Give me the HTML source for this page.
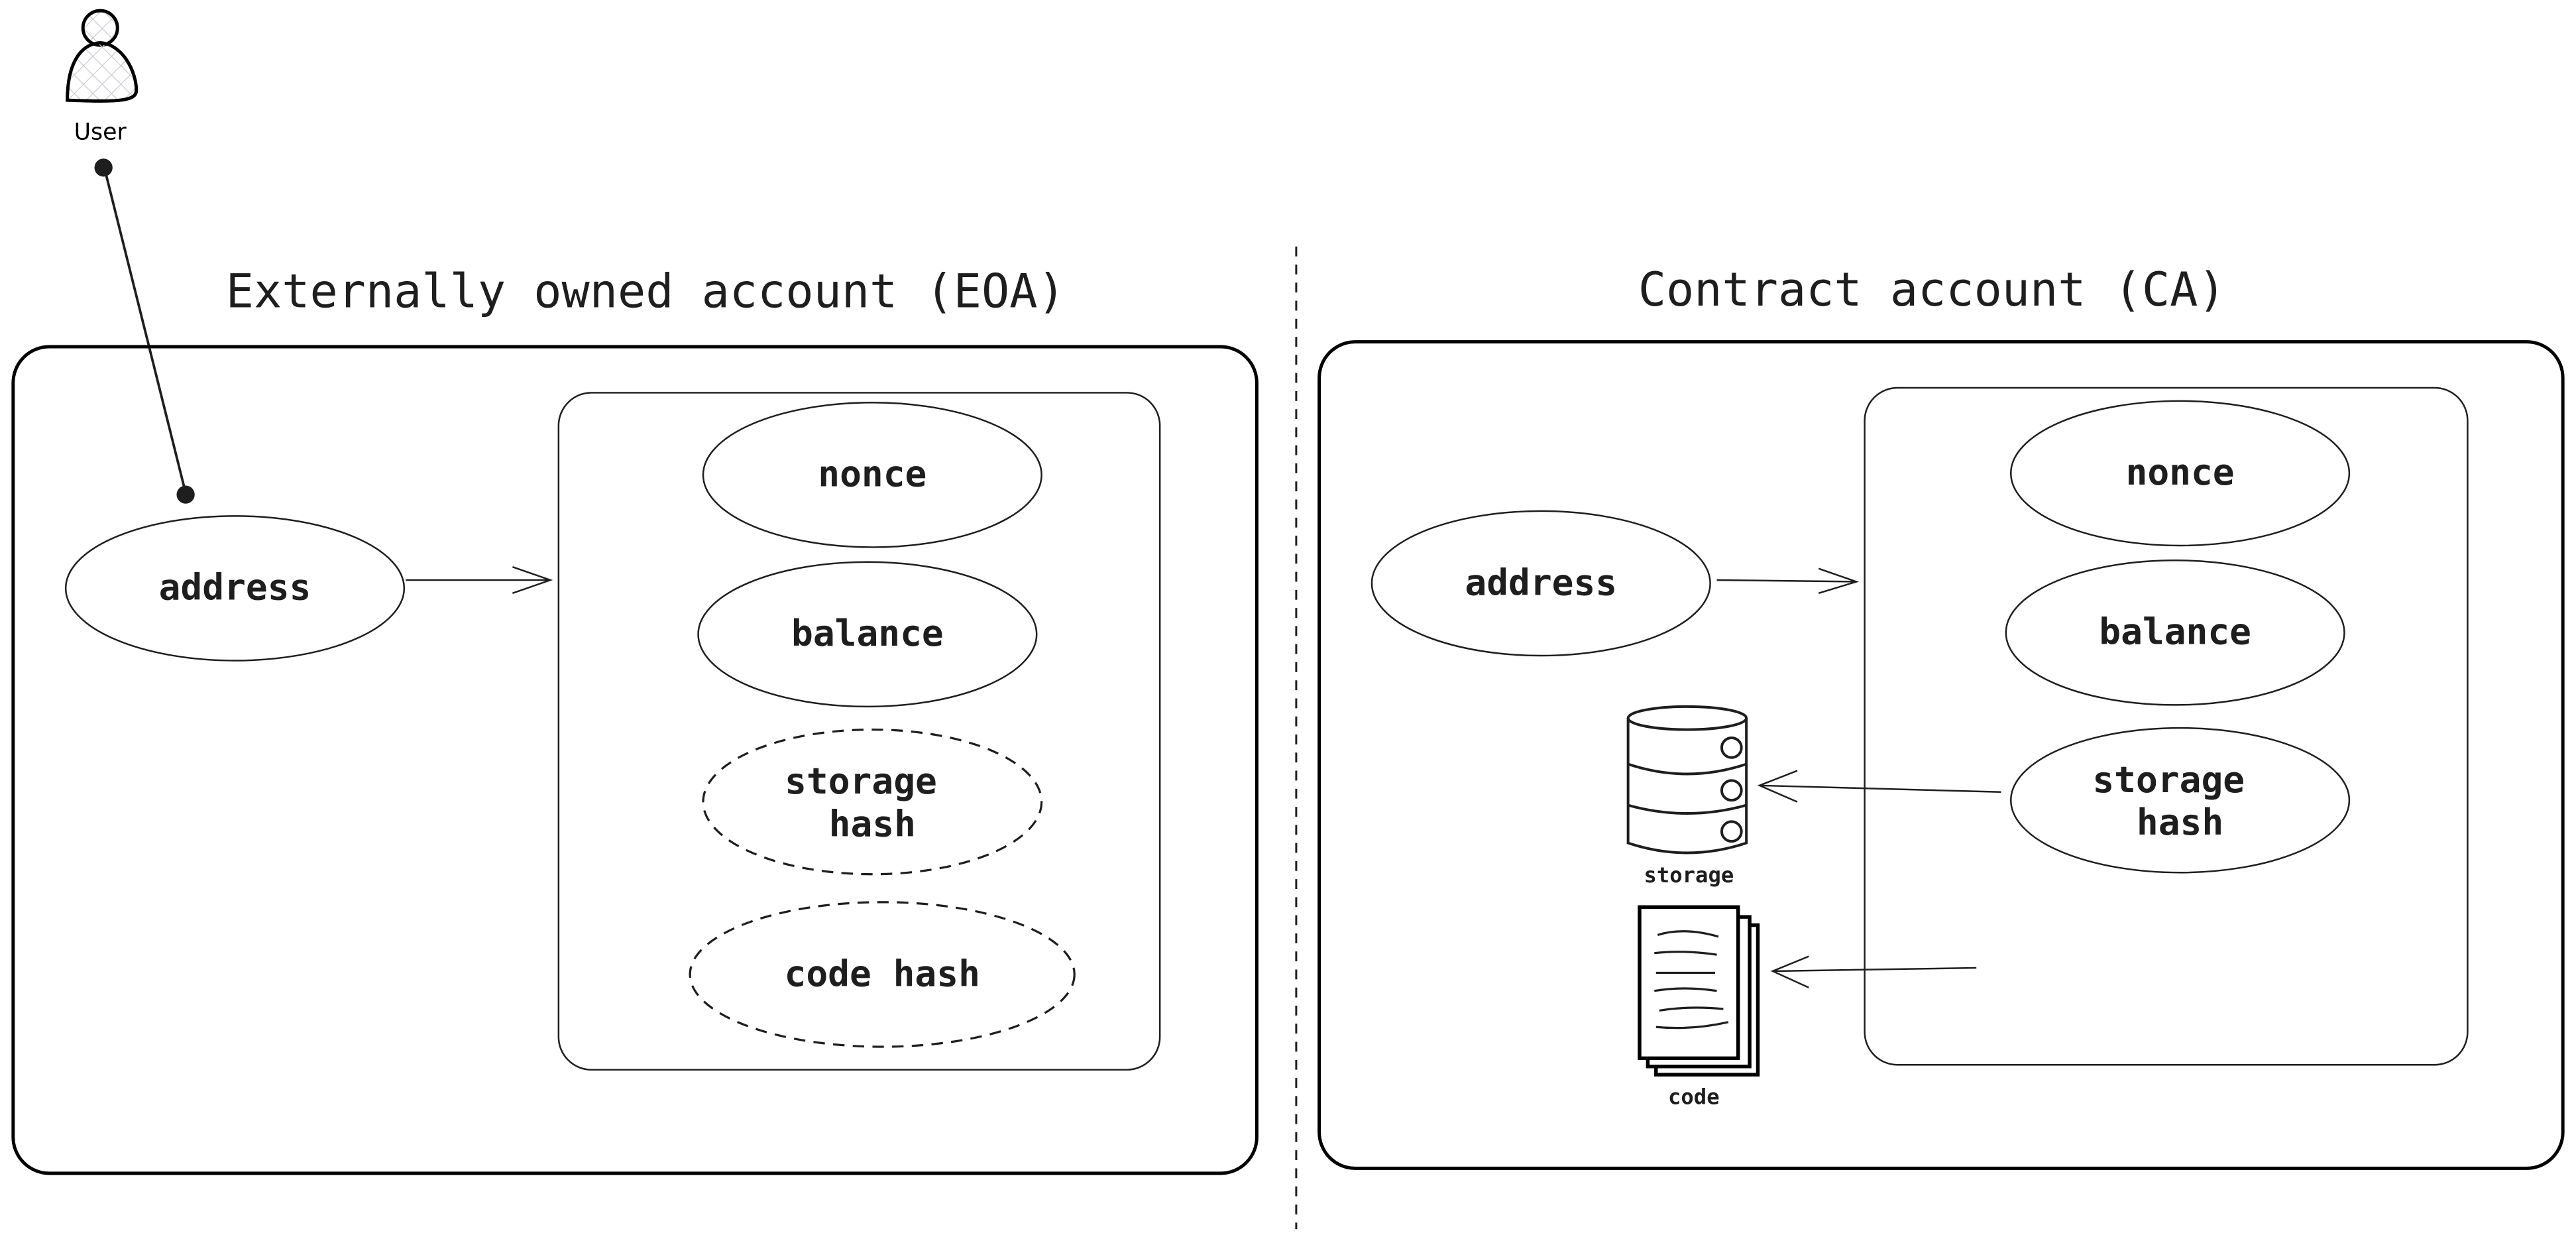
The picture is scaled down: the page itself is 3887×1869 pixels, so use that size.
<!DOCTYPE html>
<html><head><meta charset="utf-8"><style>
html,body{margin:0;padding:0;background:#fff;}
svg{display:block;}
.t{font-family:"DejaVu Sans Mono","Liberation Mono",monospace;fill:#1e1e1e;}
</style></head><body>
<svg width="3887" height="1869" viewBox="0 0 1568 754" preserveAspectRatio="none" xmlns="http://www.w3.org/2000/svg">
<defs>
<pattern id="hatch" width="8" height="8" patternUnits="userSpaceOnUse" patternTransform="rotate(45)">
<line x1="0" y1="0" x2="0" y2="8" stroke="#c8ccd2" stroke-width="1"/>
<line x1="0" y1="0" x2="8" y2="0" stroke="#c8ccd2" stroke-width="1"/>
</pattern>
</defs>
<rect width="1568" height="754" fill="#fff"/>
<circle cx="61" cy="17" r="10.5" fill="url(#hatch)" stroke="#000" stroke-width="2"/>
<path d="M41 61 C41 40 48 27 61 26 C75 27 83 44 83 55 C83 62 70 62 41 61 Z" fill="url(#hatch)" stroke="#000" stroke-width="2"/>
<text x="61" y="85" text-anchor="middle" font-family="'DejaVu Sans',sans-serif" font-size="14" fill="#000">User</text>
<circle cx="63" cy="102" r="5.5" fill="#1e1e1e"/>
<line x1="64" y1="104" x2="113" y2="300" stroke="#1e1e1e" stroke-width="1.5"/>
<circle cx="113" cy="301" r="5.5" fill="#1e1e1e"/>
<text class="t" x="393" y="187" text-anchor="middle" font-size="28.3">Externally owned account (EOA)</text>
<text class="t" x="1176" y="186" text-anchor="middle" font-size="28.3">Contract account (CA)</text>
<line x1="789" y1="150" x2="789" y2="748" stroke="#1e1e1e" stroke-width="1.2" stroke-dasharray="6 5"/>
<rect x="8" y="211" width="757" height="503" rx="22" fill="none" stroke="#000" stroke-width="2"/>
<rect x="340" y="239" width="366" height="412" rx="20" fill="none" stroke="#1e1e1e" stroke-width="1"/>
<g fill="none" stroke="#1e1e1e" stroke-width="1">
<ellipse cx="143" cy="358" rx="103" ry="44"/>
<ellipse cx="531" cy="289" rx="103" ry="44"/>
<ellipse cx="528" cy="386" rx="103" ry="44"/>
<ellipse cx="531" cy="488" rx="103" ry="44" stroke-dasharray="7 5" stroke-width="1.3"/>
<ellipse cx="537" cy="593" rx="117" ry="44" stroke-dasharray="7 5" stroke-width="1.3"/>
<path d="M247 353 L335 353 M312 345 L335 353 L312 361"/>
</g>
<g class="t" font-size="22" font-weight="bold" text-anchor="middle">
<text x="143" y="365">address</text>
<text x="531" y="296">nonce</text>
<text x="528" y="393">balance</text>
<text x="524" y="483">storage</text>
<text x="531" y="509">hash</text>
<text x="537" y="600">code hash</text>
</g>
<rect x="803" y="208" width="757" height="503" rx="22" fill="none" stroke="#000" stroke-width="2"/>
<rect x="1135" y="236" width="367" height="412" rx="20" fill="none" stroke="#1e1e1e" stroke-width="1"/>
<g fill="none" stroke="#1e1e1e" stroke-width="1">
<ellipse cx="938" cy="355" rx="103" ry="44"/>
<ellipse cx="1327" cy="288" rx="103" ry="44"/>
<ellipse cx="1324" cy="385" rx="103" ry="44"/>
<ellipse cx="1327" cy="487" rx="103" ry="44"/>
<path d="M1045 353 L1130 354 M1107 346 L1130 354 L1107 361"/>
<path d="M1218 482 L1071 478 M1094 469 L1071 478 L1094 488"/>
<path d="M1203 589 L1079 591 M1101 582 L1079 591 L1101 601"/>
</g>
<g class="t" font-size="22" font-weight="bold" text-anchor="middle">
<text x="938" y="362">address</text>
<text x="1327" y="295">nonce</text>
<text x="1324" y="392">balance</text>
<text x="1320" y="482">storage</text>
<text x="1327" y="508">hash</text>
</g>
<g fill="none" stroke="#1e1e1e" stroke-width="1.6">
<ellipse cx="1027" cy="437" rx="36" ry="7"/>
<path d="M991 437 L991 513 Q1027 525 1063 513 L1063 437"/>
<path d="M991 465 Q1027 477 1063 465"/>
<path d="M991 490 Q1027 500 1063 490"/>
<circle cx="1054" cy="455" r="6"/>
<circle cx="1054" cy="481" r="6"/>
<circle cx="1054" cy="506" r="6"/>
</g>
<text class="t" x="1028" y="537" text-anchor="middle" font-size="13" font-weight="bold">storage</text>
<g fill="#fff" stroke="#000" stroke-width="2.2">
<rect x="1008" y="563" width="62" height="91"/>
<rect x="1003" y="558" width="62" height="91"/>
<rect x="998" y="552" width="60" height="92"/>
</g>
<g fill="none" stroke="#1e1e1e" stroke-width="1.3">
<path d="M1009 569 Q1025 564 1046 570"/>
<path d="M1007 580 Q1025 578 1045 581"/>
<path d="M1008 592 L1044 592"/>
<path d="M1007 603 Q1025 600 1045 603"/>
<path d="M1010 615 Q1028 612 1049 614"/>
<path d="M1008 625 Q1030 627 1052 622"/>
</g>
<text class="t" x="1031" y="672" text-anchor="middle" font-size="13" font-weight="bold">code</text>
</svg>
</body></html>
